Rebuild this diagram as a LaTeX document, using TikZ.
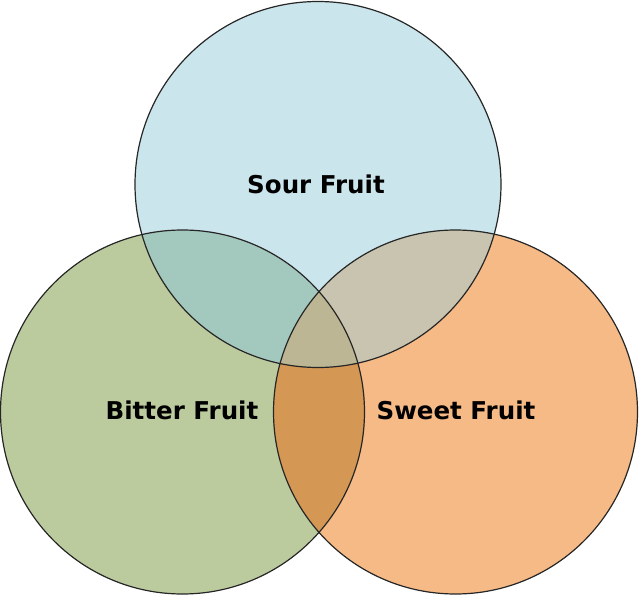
\documentclass[tikz,border=0pt]{standalone}
\usepackage{fontspec}
\setmainfont{DejaVu Sans}
\usepackage{tikz}

\definecolor{sourblue}{RGB}{203,229,236}
\definecolor{bittergreen}{RGB}{188,203,158}
\definecolor{sweetorange}{RGB}{246,186,135}
\definecolor{sourbitter}{RGB}{163,200,190}
\definecolor{soursweet}{RGB}{200,196,176}
\definecolor{bittersweet}{RGB}{212,152,84}
\definecolor{allthree}{RGB}{188,182,148}

\tikzset{
  ring/.style={draw=black!85, line width=0.9pt},
  setlabel/.style={font=\bfseries\fontsize{18.4}{21}\selectfont, inner sep=0.75pt}
}

\begin{document}
\begin{tikzpicture}[x=0.75pt,y=0.75pt,yscale=-1,xscale=1]
\useasboundingbox (0,0) rectangle (640,596);

% centres
\coordinate (sourc) at (318,184.5);
\coordinate (bitterc) at (182.5,412);
\coordinate (sweetc) at (455.5,412);

%Shape: Circle fills
\fill [bittergreen] (bitterc) circle (182);
\fill [sweetorange] (sweetc) circle (182);
\fill [sourblue] (sourc) circle (183);

% overlaps
\begin{scope}
\clip (bitterc) circle (182);
\fill [bittersweet] (sweetc) circle (182);
\end{scope}
\begin{scope}
\clip (sourc) circle (183);
\fill [sourbitter] (bitterc) circle (182);
\fill [soursweet] (sweetc) circle (182);
\clip (bitterc) circle (182);
\fill [allthree] (sweetc) circle (182);
\end{scope}

%Shape: Circle outlines
\draw [ring] (bitterc) circle (182);
\draw [ring] (sweetc) circle (182);
\draw [ring] (sourc) circle (183);

% Text Node
\node [setlabel] (sour) at (316,184) {Sour Fruit};
% Text Node
\node [setlabel] (bitter) at (182,410) {Bitter Fruit};
% Text Node
\node [setlabel] (sweet) at (456,410) {Sweet Fruit};

\end{tikzpicture}
\end{document}
